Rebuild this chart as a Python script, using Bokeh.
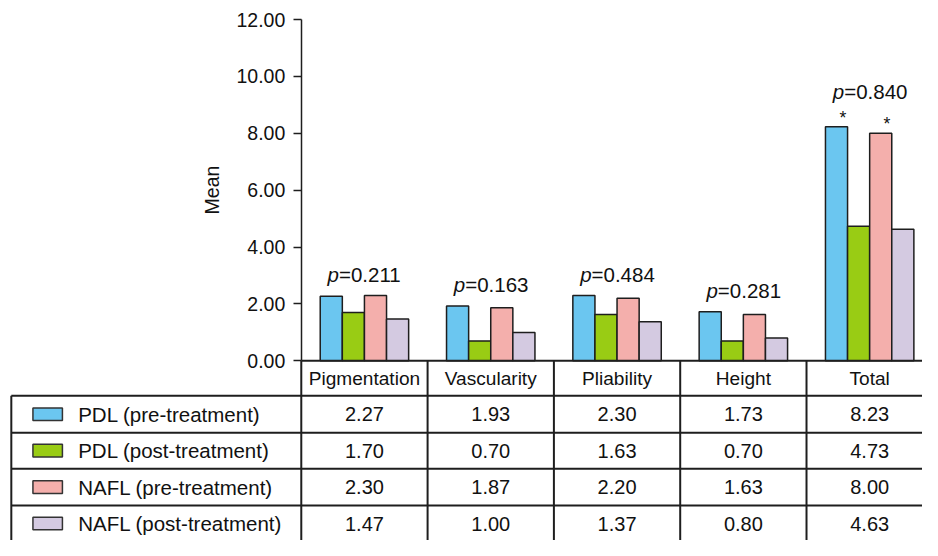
import numpy as np
from bokeh.plotting import figure
from bokeh.models import Range1d, LinearAxis, FixedTicker, NumeralTickFormatter
from bokeh.core.properties import value
from bokeh.embed import file_html
from bokeh.resources import INLINE

# ---------------- data ----------------
categories = ["Pigmentation", "Vascularity", "Pliability", "Height", "Total"]
series_names = ["PDL (pre-treatment)", "PDL (post-treatment)",
                "NAFL (pre-treatment)", "NAFL (post-treatment)"]
pdl_pre = [2.27, 1.93, 2.30, 1.73, 8.23]
pdl_post = [1.70, 0.70, 1.63, 0.70, 4.73]
nafl_pre = [2.30, 1.87, 2.20, 1.63, 8.00]
nafl_post = [1.47, 1.00, 1.37, 0.80, 4.63]
p_values = ["0.211", "0.163", "0.484", "0.281", "0.840"]
# significance (*) markers: per category, per series
significant = [[False, False, False, False],
               [False, False, False, False],
               [False, False, False, False],
               [False, False, False, False],
               [True, False, True, False]]
y_ticks = [0, 2, 4, 6, 8, 10, 12]

# ---------------- styling ----------------
colors = ["#6BC6F0", "#99CC14", "#F4AFAC", "#D4CAE1"]
edge = "#1e1e1e"
FONT = "Liberation Sans"

# geometry: layout is designed on a 938x556 canvas and scaled into W x H
W, H = 922, 540
REF_W, REF_H = 938, 556
X0_PX, PX_PER_X = 370.25, 128.5
Y0_PX, PX_PER_Y = 371.0, 29.28
def xd(px):
    return (px - X0_PX) / PX_PER_X
def yd(py):
    return (Y0_PX - py) / PX_PER_Y
def fs(px):
    return "%.1fpx" % (px * 0.977)

p = figure(width=W, height=H, output_backend="svg", toolbar_location=None,
           x_axis_type=None, y_axis_type=None, min_border=0,
           x_range=Range1d(xd(0), xd(REF_W)),
           y_range=Range1d(yd(REF_H), yd(0)))
p.outline_line_color = None
p.background_fill_color = "white"
p.border_fill_color = "white"

# ---------------- bars ----------------
n = len(categories)
idx = np.arange(n)
bar_w = 0.175
offsets = [-1.5 * bar_w, -0.5 * bar_w, 0.5 * bar_w, 1.5 * bar_w]
series = [pdl_pre, pdl_post, nafl_pre, nafl_post]
for s, vals in enumerate(series):
    p.vbar(x=idx + offsets[s], top=vals, bottom=0, width=bar_w,
           fill_color=colors[s], line_color=edge, line_width=1.5)

# ---------------- y axis ----------------
ax = LinearAxis(fixed_location=-0.5, bounds=(0, 12),
                ticker=FixedTicker(ticks=y_ticks),
                formatter=NumeralTickFormatter(format="0.00"))
ax.major_tick_out = 8
ax.major_tick_in = 0
ax.minor_tick_out = 0
ax.minor_tick_in = 0
ax.axis_line_width = 1.5
ax.axis_line_color = edge
ax.major_tick_line_color = edge
ax.major_tick_line_width = 1.5
ax.major_label_text_font = FONT
ax.major_label_text_font_size = fs(20)
ax.major_label_text_color = "#111111"
ax.major_label_standoff = 8
ax.axis_label = "Mean"
ax.axis_label_text_font = FONT
ax.axis_label_text_font_size = fs(20)
ax.axis_label_text_font_style = "normal"
ax.axis_label_text_color = "#111111"
ax.axis_label_standoff = 11
p.add_layout(ax, "left")

# ---------------- p-value labels & asterisks ----------------
maxes = [max(v) for v in zip(*series)]
p_y = []
for i in range(n):
    extra = 0.5 if any(significant[i]) else 0.0
    p_y.append(maxes[i] + 0.75 + extra)
p.text(x=list(idx), y=p_y, text=["p"] * n, text_font=value(FONT),
       text_font_size=fs(21), text_font_style="italic", text_align="right",
       text_baseline="middle", x_offset=-25.5, text_color="#111111")
p.text(x=list(idx), y=p_y, text=["=" + v for v in p_values], text_font=value(FONT),
       text_font_size=fs(21), text_align="left", text_baseline="middle",
       x_offset=-25.5, text_color="#111111")

ast_x, ast_y = [], []
for i in range(n):
    for s in range(4):
        if significant[i][s]:
            ast_x.append(idx[i] + offsets[s] + 0.05)
            ast_y.append(series[s][i] + 0.32)
p.text(x=ast_x, y=ast_y, text=["*"] * len(ast_x), text_font=value(FONT),
       text_font_size=fs(18), text_align="center", text_baseline="alphabetic",
       text_color="#111111")

# ---------------- table ----------------
x_right = xd(960)
y_header_bot = yd(407)
row_lines = [yd(445), yd(482), yd(520)]
y_bottom = yd(570)
x_table_left = xd(11)

# horizontal lines
hx0 = [-0.5, x_table_left] + [x_table_left] * len(row_lines)
hy = [0.0, y_header_bot] + row_lines
p.segment(x0=hx0, y0=hy, x1=[x_right] * len(hy), y1=hy,
          line_color=edge, line_width=2)
# vertical lines
vx = [i - 0.5 for i in range(n)] + [n - 0.5]
p.segment(x0=vx, y0=[0.0] * len(vx), x1=vx, y1=[y_bottom] * len(vx),
          line_color=edge, line_width=2)
p.segment(x0=[x_table_left], y0=[y_header_bot], x1=[x_table_left], y1=[y_bottom],
          line_color=edge, line_width=2)

# header
p.text(x=list(idx), y=[yd(389)] * n, text=categories, text_font=value(FONT),
       text_font_size=fs(19.5), text_align="center", text_baseline="middle",
       text_color="#111111")

row_centers = [yd(426), yd(463.5), yd(501), yd(538.5)]
for s, vals in enumerate(series):
    p.rect(x=[xd(48)], y=[row_centers[s]], width=30 / PX_PER_X, height=13 / PX_PER_Y,
           fill_color=colors[s], line_color="#333333", line_width=1.5)
    p.text(x=[xd(79)], y=[row_centers[s]], text=[series_names[s]],
           text_font=value(FONT), text_font_size=fs(21), text_align="left",
           text_baseline="middle", text_color="#111111")
    p.text(x=list(idx), y=[row_centers[s]] * n, text=["%.2f" % v for v in vals],
           text_font=value(FONT), text_font_size=fs(20.5), text_align="center",
           text_baseline="middle", text_color="#111111")

open("out.html", "w").write(file_html(p, INLINE))
